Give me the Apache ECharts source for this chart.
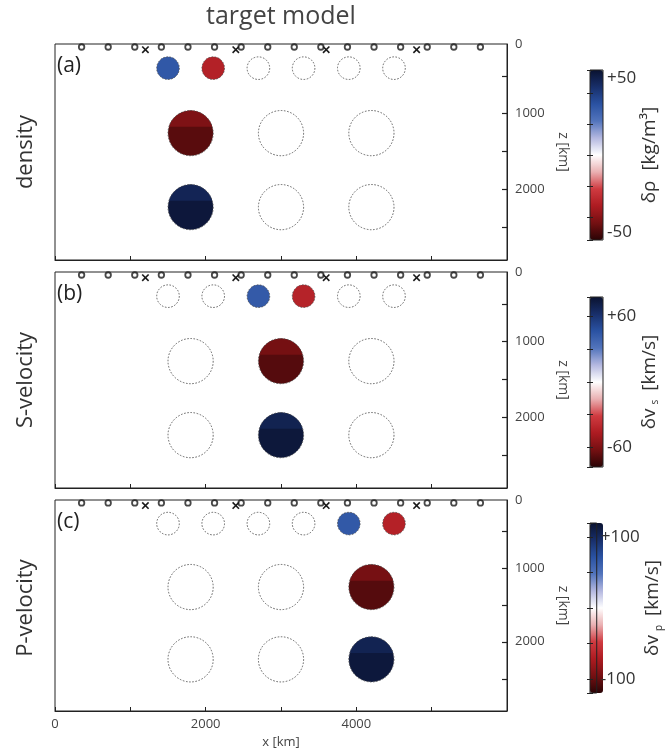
<!DOCTYPE html>
<html><head><meta charset="utf-8">
<script src="https://cdn.jsdelivr.net/npm/echarts@6/dist/echarts.min.js"></script>
<style>html,body{margin:0;padding:0;background:#fff}#c{width:665px;height:750px}</style>
</head><body><div id="c"></div>
<script>
// ---------------- data ----------------
const X_TICK_LABELS = [0, 2000, 4000];
const Z_TICK_LABELS = [1000, 2000];
const Z_TICKS = [500, 1000, 1500, 2000, 2500];
const RECEIVERS_X = [353, 706, 1059, 1412, 1765, 2118, 2471, 2824, 3176, 3529, 3882, 4235, 4588, 4941, 5294, 5647];
const RECEIVER_Z = 120;
const SOURCES_X = [1200, 2400, 3600, 4800];
const SOURCE_Z = 155;
const SMALL_X = [1500, 2100, 2700, 3300, 3900, 4500];
const SMALL_Z = 400;
const SMALL_R = 150;
const BIG_X = [1800, 3000, 4200];
const BIG_Z = [1260, 2240];
const BIG_R = 300;
// anomalies: [x, z, radius, value, part]  part 0 = whole disc, 1 = upper cell band
const DENSITY = [[1500,400,150,31,0],[2100,400,150,-31,0],[1800,1260,300,-48,0],[1800,1260,300,-42,1],[1800,2240,300,53,0],[1800,2240,300,48,1]];
const VS = [[2700,400,150,43,0],[3300,400,150,-43,0],[3000,1260,300,-69,0],[3000,1260,300,-62,1],[3000,2240,300,75,0],[3000,2240,300,69,1]];
const VP = [[3900,400,150,67,0],[4500,400,150,-67,0],[4200,1260,300,-106,0],[4200,1260,300,-95,1],[4200,2240,300,115,0],[4200,2240,300,106,1]];
const PANEL_NAMES = ['density', 'S-velocity', 'P-velocity'];
const PANEL_LETTERS = ['(a)', '(b)', '(c)'];
const CBAR_RANGES = [55, 78, 120];
const CBAR_LABELS = [[-50, 50], [-60, 60], [-100, 100]];
const CBAR_NAMES = ['{t|δρ  [kg/m³]}', '{t|δv}{s|s}{t| [km/s]}', '{t|δv}{s|p}{t| [km/s]}'];
const CMAP = ['#2a0405','#741012','#ad1b21','#cf3a40','#eab0b2','#ffffff','#b4b8e0','#5274bc','#2a52a2','#182f6a','#0a1230'];
const PANEL_DATA = [DENSITY, VS, VP];

// ---------------- layout ----------------
const FONT = 'Open Sans';
const Z_MIN = 80, Z_MAX = 2940;
const PANEL_TOPS = [44, 272, 500];
const PANEL_H = 216;
const CBAR_TOPS = [70, 297, 523];

const OUTLINES = SMALL_X.map(x => [x, SMALL_Z, SMALL_R])
  .concat(BIG_Z.flatMap(z => BIG_X.map(x => [x, z, BIG_R])));

function fillItem(params, api) {
  const c = api.coord([api.value(0), api.value(1)]);
  const r = api.size([api.value(2), 0])[0];
  const color = api.visual('color');
  if (api.value(4) === 0) {
    return { type: 'circle', shape: { cx: c[0], cy: c[1], r: r }, style: { fill: color } };
  }
  const f = 0.36;
  const d = r - 2 * r * f;
  const half = Math.acos(d / r);
  const pts = [];
  for (let i = 0; i <= 40; i++) {
    const a = -half + 2 * half * i / 40;
    pts.push([c[0] + r * Math.sin(a), c[1] - r * Math.cos(a)]);
  }
  return { type: 'polygon', shape: { points: pts }, style: { fill: color } };
}
function outlineItem(params, api) {
  const c = api.coord([api.value(0), api.value(1)]);
  const r = api.size([api.value(2), 0])[0];
  return { type: 'circle', shape: { cx: c[0], cy: c[1], r: r },
    style: { fill: null, stroke: '#555', lineWidth: 0.9, lineDash: [1.6, 1.6] } };
}
function crossItem(params, api) {
  const c = api.coord([api.value(0), api.value(1)]);
  const s = 3.2;
  return { type: 'group', children: [
    { type: 'line', shape: { x1: c[0]-s, y1: c[1]-s, x2: c[0]+s, y2: c[1]+s }, style: { stroke: '#1a1a1a', lineWidth: 1.6 } },
    { type: 'line', shape: { x1: c[0]-s, y1: c[1]+s, x2: c[0]+s, y2: c[1]-s }, style: { stroke: '#1a1a1a', lineWidth: 1.6 } }
  ]};
}
// inward tick on the right edge of a panel
function zTickItem(params, api) {
  const c = api.coord([api.value(0), api.value(1)]);
  const y = Math.round(c[1]) + 0.5;
  return { type: 'group', children: [
    { type: 'line', shape: { x1: c[0] - 5, y1: y, x2: c[0], y2: y }, style: { stroke: '#222', lineWidth: 1.2 } }
  ]};
}

const grid = [], xAxis = [], yAxis = [], series = [], visualMap = [], graphic = [];
for (let i = 0; i < 3; i++) {
  grid.push({ left: 55, top: PANEL_TOPS[i], width: 452, height: PANEL_H, show: true,
    borderColor: '#222', borderWidth: 1, backgroundColor: 'transparent' });
  xAxis.push({ type: 'value', gridIndex: i, min: 0, max: 6000, interval: 1000,
    axisLine: { show: true, onZero: false, lineStyle: { color: '#222' } },
    axisTick: { show: true, inside: true, length: 4, lineStyle: { color: '#222' } },
    axisLabel: { show: i === 2, customValues: X_TICK_LABELS, formatter: v => String(v),
      fontSize: 13, color: '#444', margin: 7, fontFamily: FONT },
    splitLine: { show: false },
    name: i === 2 ? 'x [km]' : '', nameLocation: 'middle', nameGap: 25,
    nameTextStyle: { fontSize: 13, color: '#444', fontFamily: FONT } });
  yAxis.push({ type: 'value', gridIndex: i, min: Z_MIN, max: Z_MAX, inverse: true, position: 'right', splitNumber: 5,
    axisLine: { show: true, onZero: false, lineStyle: { color: '#222' } },
    axisTick: { show: false },
    axisLabel: { show: true, customValues: [Z_MIN].concat(Z_TICK_LABELS), formatter: v => v === Z_MIN ? '0' : String(v),
      fontSize: 13, color: '#444', margin: 8, fontFamily: FONT },
    splitLine: { show: false },
    name: 'z [km]', nameLocation: 'middle', nameRotate: -90, nameGap: 44,
    nameTextStyle: { fontSize: 14, color: '#444', fontFamily: FONT } });
  series.push({ type: 'custom', xAxisIndex: i, yAxisIndex: i, renderItem: fillItem,
    encode: { x: 0, y: 1 }, data: PANEL_DATA[i], silent: true, z: 2 });
  series.push({ type: 'custom', xAxisIndex: i, yAxisIndex: i, renderItem: outlineItem,
    encode: { x: 0, y: 1 }, data: OUTLINES, silent: true, z: 3 });
  series.push({ type: 'scatter', xAxisIndex: i, yAxisIndex: i, symbol: 'circle', symbolSize: 5.5, clip: false,
    itemStyle: { color: 'rgba(255,255,255,0)', borderColor: '#1a1a1a', borderWidth: 1.8 },
    data: RECEIVERS_X.map(x => [x, RECEIVER_Z]), silent: true, z: 4 });
  series.push({ type: 'custom', xAxisIndex: i, yAxisIndex: i, renderItem: crossItem, clip: false,
    encode: { x: 0, y: 1 }, data: SOURCES_X.map(x => [x, SOURCE_Z]), silent: true, z: 4 });
  visualMap.push({ type: 'continuous', min: -CBAR_RANGES[i], max: CBAR_RANGES[i], dimension: 3,
    seriesIndex: i * 4, inRange: { color: CMAP }, left: 590, top: CBAR_TOPS[i], itemWidth: 13, itemHeight: 170,
    padding: 0, text: null, calculable: false, hoverLink: false, orient: 'vertical', z: 4 });
  graphic.push({ type: 'text', x: 57, y: PANEL_TOPS[i] + 12,
    style: { text: PANEL_LETTERS[i], font: '21px "Open Sans"', fill: '#222' } });
  graphic.push({ type: 'text', x: 26, y: PANEL_TOPS[i] + PANEL_H / 2, rotation: Math.PI / 2,
    style: { text: PANEL_NAMES[i], font: '22px "Open Sans"', fill: '#333', textAlign: 'center', textVerticalAlign: 'middle' } });
}
for (let i = 0; i < 3; i++) {
  series.push({ type: 'custom', xAxisIndex: i, yAxisIndex: i, renderItem: zTickItem, clip: false,
    encode: { x: 0, y: 1 }, data: Z_TICKS.map(z => [6000, z]), silent: true, z: 6 });
}
for (let i = 0; i < 3; i++) {
  const gi = 3 + i;
  grid.push({ left: 590, top: CBAR_TOPS[i], width: 13, height: 170, show: true, z: 10,
    borderColor: '#222', borderWidth: 1, backgroundColor: 'transparent' });
  xAxis.push({ type: 'value', gridIndex: gi, show: false, min: 0, max: 1 });
  yAxis.push({ type: 'value', gridIndex: gi, min: -CBAR_RANGES[i], max: CBAR_RANGES[i], position: 'right', z: 10,
    splitNumber: 5,
    axisLine: { show: false },
    axisTick: { show: true, inside: true, length: 3, lineStyle: { color: '#222' } },
    axisLabel: { show: true, customValues: CBAR_LABELS[i], formatter: v => v > 0 ? '+' + v : String(v),
      fontSize: 17, color: '#333', margin: 4, fontFamily: FONT },
    splitLine: { show: false },
    name: CBAR_NAMES[i], nameLocation: 'middle', nameRotate: 90, nameGap: 12,
    nameTextStyle: { fontFamily: FONT, rich: {
      t: { fontSize: 19, color: '#333', fontFamily: FONT },
      s: { fontSize: 10, color: '#333', fontFamily: FONT, verticalAlign: 'bottom', padding: [12, 4, 0, 4] } } } });
  yAxis.push({ type: 'value', gridIndex: gi, min: -CBAR_RANGES[i], max: CBAR_RANGES[i], position: 'left', z: 10,
    splitNumber: 5,
    axisLine: { show: false },
    axisTick: { show: true, inside: true, length: 3, lineStyle: { color: '#222' } },
    axisLabel: { show: false }, splitLine: { show: false } });
}
graphic.push({ type: 'text', x: 281, y: 4,
  style: { text: 'target model', font: '25px "Open Sans"', fill: '#444', textAlign: 'center' } });

const chart = echarts.init(document.getElementById('c'), null, { renderer: 'canvas' });
chart.setOption({
  animation: false,
  backgroundColor: '#fff',
  textStyle: { fontFamily: FONT },
  grid, xAxis, yAxis, series, visualMap, graphic
});
</script></body></html>
